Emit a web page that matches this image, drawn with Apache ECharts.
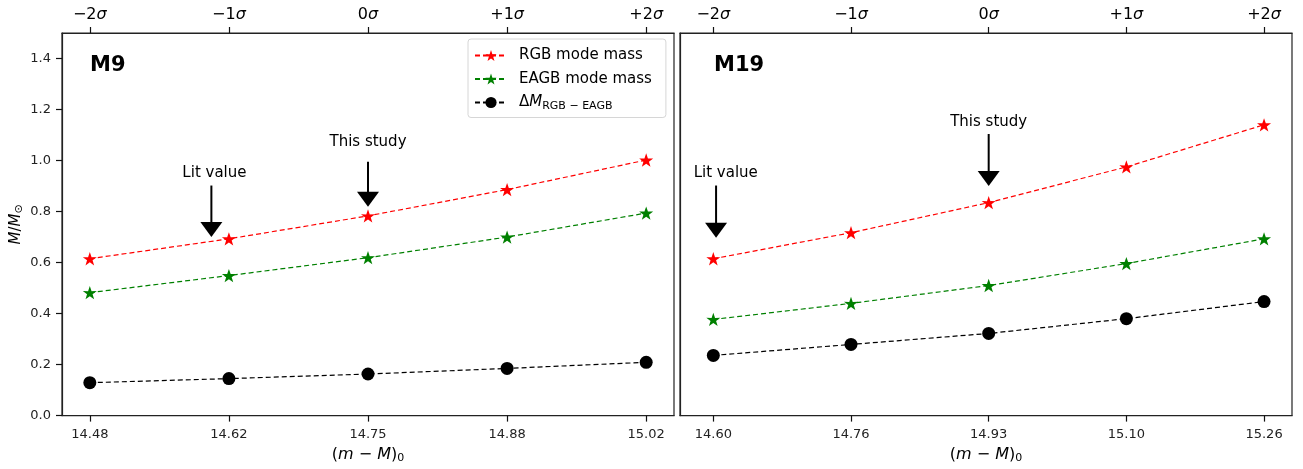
<!DOCTYPE html>
<html>
<head>
<meta charset="utf-8">
<script src="https://cdn.jsdelivr.net/npm/echarts@6/dist/echarts.min.js"></script>
<style>
  html, body { margin: 0; padding: 0; background: #fff; }
  #main { width: 1303px; height: 469px; }
</style>
</head>
<body>
<div id="main"></div>
<script>
// tick labels
var m9Ticks = ['14.48', '14.62', '14.75', '14.88', '15.02'];
var m19Ticks = ['14.60', '14.76', '14.93', '15.10', '15.26'];
var sigmaTicks = ['−2σ', '−1σ', '0σ', '+1σ', '+2σ'];
var tickPos = [0, 1, 2, 3, 4];
var yTicks = [0, 0.2, 0.4, 0.6, 0.8, 1.0, 1.2, 1.4];

// M9 masses
var m9Rgb = [0.615, 0.693, 0.783, 0.886, 1.002];
var m9Eagb = [0.482, 0.549, 0.619, 0.700, 0.794];
var m9Delta = [0.129, 0.145, 0.163, 0.185, 0.209];

// M19 masses
var m19Rgb = [0.615, 0.717, 0.835, 0.975, 1.140];
var m19Eagb = [0.377, 0.440, 0.510, 0.596, 0.693];
var m19Delta = [0.236, 0.279, 0.322, 0.380, 0.447];

// arrows: x, arrow top, arrow tip, text x, text y (data units)
var m9Notes = [
    { text: 'Lit value', x: 0.874, top: 0.902, tip: 0.700, tx: 0.896, ty: 0.951 },
    { text: 'This study', x: 2, top: 0.995, tip: 0.819, tx: 2, ty: 1.073 }
];
var m19Notes = [
    { text: 'Lit value', x: 0.02, top: 0.902, tip: 0.697, tx: 0.09, ty: 0.951 },
    { text: 'This study', x: 2, top: 1.104, tip: 0.900, tx: 2, ty: 1.151 }
];

var STAR = 'path://M50,0 L61.8,35.1 L97.6,34.5 L68.8,56.2 L79.4,90.5 L50,69.9 L20.6,90.5 L31.2,56.2 L2.4,34.5 L38.2,35.1 Z';
var FONT = 'DejaVu Sans';
var AX = '#222';
var TICK = { show: true, length: 6, lineStyle: { color: '#111', width: 1.2 } };

function pairs(vals) {
    return vals.map(function (v, i) { return [tickPos[i], v]; });
}

function massSeries(name, vals, color, symbol, size, xi, yi) {
    return {
        name: name,
        type: 'line',
        xAxisIndex: xi,
        yAxisIndex: yi,
        data: pairs(vals),
        symbol: symbol,
        symbolSize: size,
        symbolKeepAspect: true,
        showAllSymbol: true,
        lineStyle: { color: color, width: 1.2, type: [5, 3] },
        itemStyle: { color: color },
        emphasis: { disabled: true },
        animation: false,
        z: 3
    };
}

function notesSeries(notes, xi, yi) {
    return {
        type: 'custom',
        xAxisIndex: xi,
        yAxisIndex: yi,
        silent: true,
        animation: false,
        data: notes.map(function (n) { return [n.x, n.top, n.tip, n.tx, n.ty]; }),
        renderItem: function (params, api) {
            var top = api.coord([api.value(0), api.value(1)]);
            var tip = api.coord([api.value(0), api.value(2)]);
            var txt = api.coord([api.value(3), api.value(4)]);
            return {
                type: 'group',
                children: [
                    { type: 'line', shape: { x1: top[0], y1: top[1], x2: tip[0], y2: tip[1] - 12 },
                      style: { stroke: '#000', lineWidth: 2 } },
                    { type: 'polygon', shape: { points: [[tip[0] - 11, tip[1] - 15], [tip[0] + 11, tip[1] - 15], [tip[0], tip[1]]] },
                      style: { fill: '#000' } },
                    { type: 'text', x: txt[0], y: txt[1],
                      style: { text: notes[params.dataIndex].text, align: 'center', verticalAlign: 'middle',
                               font: '15px "' + FONT + '"', fill: '#000' } }
                ]
            };
        }
    };
}

function xBottom(gi, min, max, labels) {
    return {
        type: 'value', gridIndex: gi, position: 'bottom', min: min, max: max,
        axisLine: { show: true, onZero: false, lineStyle: { color: AX, width: 1.2 } },
        axisTick: Object.assign({ customValues: tickPos }, TICK),
        axisLabel: { customValues: tickPos, color: '#222', fontFamily: FONT, fontSize: 13, margin: 13,
                     formatter: function (v) { return labels[Math.round(v)]; } },
        splitLine: { show: false },
        name: '({i|m} − {i|M}){sub|0}',
        nameLocation: 'middle', nameGap: 28,
        nameTextStyle: {
            color: '#000', fontFamily: FONT, fontSize: 16,
            rich: {
                i: { fontStyle: 'italic', fontFamily: FONT, fontSize: 16 },
                sub: { fontFamily: FONT, fontSize: 11, padding: [8, 0, 0, 0] }
            }
        }
    };
}

function xTop(gi, min, max) {
    return {
        type: 'value', gridIndex: gi, position: 'top', min: min, max: max,
        axisLine: { show: true, onZero: false, lineStyle: { color: AX, width: 1.2 } },
        axisTick: Object.assign({ customValues: tickPos }, TICK),
        axisLabel: { customValues: tickPos, color: '#000', fontFamily: FONT, fontSize: 16, margin: 10,
                     formatter: function (v) { return sigmaTicks[Math.round(v)].replace('σ', '{s|σ}'); },
                     rich: { s: { fontStyle: 'italic', fontFamily: FONT, fontSize: 16 } } },
        splitLine: { show: false }
    };
}

function yAxis(gi, withLabels) {
    var ax = {
        type: 'value', gridIndex: gi, position: 'left', min: 0, max: 1.5,
        axisLine: { show: true, onZero: false, lineStyle: { color: AX, width: 1.2 } },
        axisTick: Object.assign({ customValues: yTicks }, TICK, { show: withLabels }),
        axisLabel: { show: withLabels, customValues: yTicks, color: '#222', fontFamily: FONT, fontSize: 13, margin: 11,
                     formatter: function (v) { return v.toFixed(1); } },
        splitLine: { show: false }
    };
    if (withLabels) {
        ax.name = '{i|M}/{i|M}{sub|⊙}';
        ax.nameLocation = 'middle';
        ax.nameGap = 37;
        ax.nameTextStyle = {
            color: '#000', fontFamily: FONT, fontSize: 15,
            rich: {
                i: { fontStyle: 'italic', fontFamily: FONT, fontSize: 15 },
                sub: { fontFamily: FONT, fontSize: 11, padding: [6, 0, 0, 0] }
            }
        };
    }
    return ax;
}

var chart = echarts.init(document.getElementById('main'));

var option = {
    backgroundColor: '#fff',
    animation: false,
    title: [
        { text: 'M9', left: 85, top: 50, textStyle: { fontFamily: FONT, fontSize: 21, fontWeight: 'bold', color: '#000' } },
        { text: 'M19', left: 709, top: 50, textStyle: { fontFamily: FONT, fontSize: 21, fontWeight: 'bold', color: '#000' } }
    ],
    legend: {
        orient: 'vertical',
        left: 468, top: 39,
        padding: [9, 14, 6, 6],
        itemGap: 8.5,
        itemWidth: 32, itemHeight: 14,
        backgroundColor: 'rgba(255,255,255,0.8)',
        borderColor: '#d6d6d6', borderWidth: 1, borderRadius: 3,
        data: ['RGB mode mass', 'EAGB mode mass', 'ΔM'],
        formatter: function (name) {
            return name === 'ΔM' ? 'Δ{i|M}{sub|RGB − EAGB}' : name;
        },
        textStyle: {
            color: '#000', fontFamily: FONT, fontSize: 15,
            padding: [0, 0, 0, 7],
            rich: {
                i: { fontStyle: 'italic', fontFamily: FONT, fontSize: 15 },
                sub: { fontFamily: FONT, fontSize: 11, padding: [7, 0, 0, 0] }
            }
        }
    },
    grid: [
        { left: 62, top: 33, right: 629, bottom: 52, show: true, borderColor: AX, borderWidth: 1.2, backgroundColor: 'transparent' },
        { left: 680, top: 33, right: 11, bottom: 52, show: true, borderColor: AX, borderWidth: 1.2, backgroundColor: 'transparent' }
    ],
    xAxis: [
        xBottom(0, -0.2, 4.2, m9Ticks),
        xTop(0, -0.2, 4.2),
        xBottom(1, -0.242, 4.203, m19Ticks),
        xTop(1, -0.242, 4.203)
    ],
    yAxis: [yAxis(0, true), yAxis(1, false)],
    series: [
        massSeries('RGB mode mass', m9Rgb, '#ff0000', STAR, 14, 0, 0),
        massSeries('EAGB mode mass', m9Eagb, '#008000', STAR, 14, 0, 0),
        massSeries('ΔM', m9Delta, '#000000', 'circle', 13, 0, 0),
        massSeries('RGB mode mass', m19Rgb, '#ff0000', STAR, 14, 2, 1),
        massSeries('EAGB mode mass', m19Eagb, '#008000', STAR, 14, 2, 1),
        massSeries('ΔM', m19Delta, '#000000', 'circle', 13, 2, 1),
        notesSeries(m9Notes, 0, 0),
        notesSeries(m19Notes, 2, 1)
    ]
};

chart.setOption(option);
</script>
</body>
</html>
